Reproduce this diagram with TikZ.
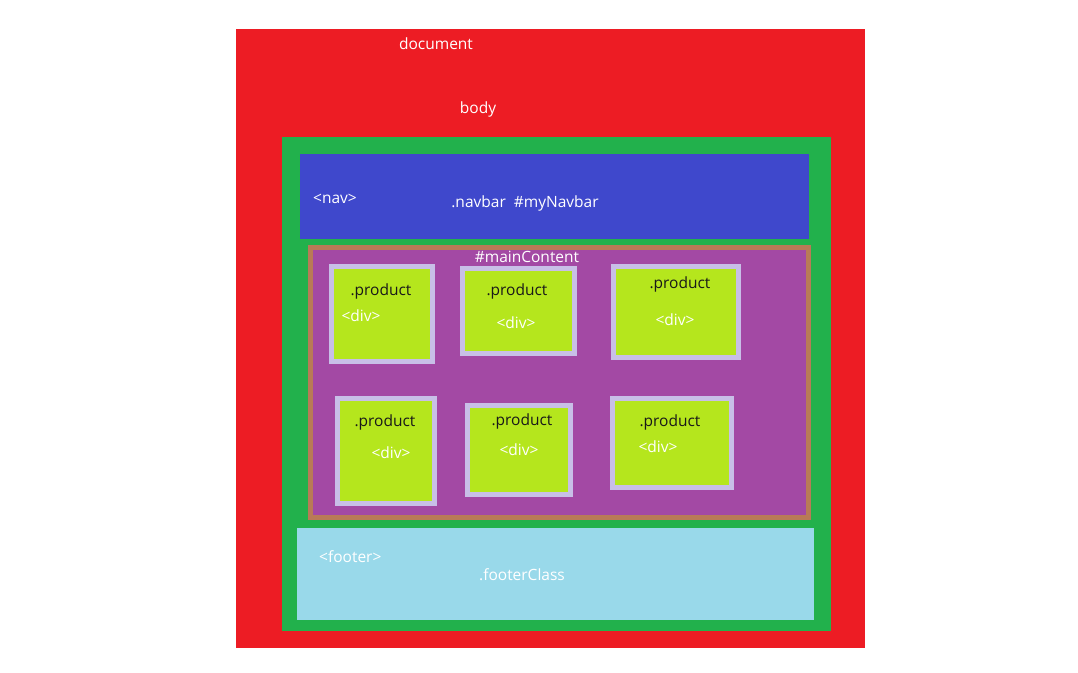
\documentclass[tikz,border=0pt]{standalone}
\usepackage{fontspec}
\setmainfont{Open Sans}
\usetikzlibrary{fit}
\definecolor{docred}{HTML}{ED1C24}
\definecolor{bodygreen}{HTML}{22B14C}
\definecolor{navblue}{HTML}{3F48CC}
\definecolor{mainpurple}{HTML}{A349A4}
\definecolor{mainbrown}{HTML}{B97A57}
\definecolor{prodlilac}{HTML}{C8BFE7}
\definecolor{prodlime}{HTML}{B5E61D}
\definecolor{footblue}{HTML}{99D9EA}

\begin{document}
\begin{tikzpicture}[
    x=1pt, y=-1pt,
    area/.style={inner sep=0pt, outer sep=0pt, draw=none},
    framed/.style={inner sep=-2.5pt, outer sep=0pt, line width=5pt},
    product/.style={framed, draw=prodlilac, fill=prodlime},
    tag/.style={inner sep=0pt, text=white, font=\fontsize{15.5}{18}\selectfont},
    cls/.style={tag, text=black!90}
]
    \useasboundingbox (0,0) rectangle (1078,672);
    \node[area, fill=docred, fit={(236,29) (865,648)}] (document) {};
    \node[area, fill=bodygreen, fit={(282,137) (831,631)}] (body) {};
    \node[area, fill=navblue, fit={(300,154) (809,239)}] (nav) {};
    \node[framed, draw=mainbrown, fill=mainpurple, fit={(308,245) (811,520)}] (main) {};
    \node[area, fill=footblue, fit={(297,528) (814,620)}] (footer) {};

    \node[product, fit={(329,264) (435,364)}] (prodA) {};
    \node[product, fit={(460,266) (577,356)}] (prodB) {};
    \node[product, fit={(611,264) (741,360)}] (prodC) {};
    \node[product, fit={(335,396) (437,506)}] (prodD) {};
    \node[product, fit={(465,403) (573,497)}] (prodE) {};
    \node[product, fit={(610,396) (734,490)}] (prodF) {};

    \node[tag] (docText) at (436,44) {document};
    \node[tag] (bodyText) at (478,109) {body};
    \node[tag, anchor=west] (navTag) at (313,199) {<nav>};
    \node[tag] (navClass) at (525,203) {.navbar\ \ \#myNavbar};
    \node[tag] (mainText) at (527,257) {\#mainContent};
    \node[tag, anchor=west] (footTag) at (319,557) {<footer>};
    \node[tag] (footClass) at (522,575) {.footerClass};

    \node[cls] (clsA) at (381,291) {.product};
    \node[tag] (divA) at (361,316) {<div>};
    \node[cls] (clsB) at (517,291) {.product};
    \node[tag] (divB) at (516,323) {<div>};
    \node[cls] (clsC) at (680,284) {.product};
    \node[tag] (divC) at (675,320) {<div>};
    \node[cls] (clsD) at (385,422) {.product};
    \node[tag] (divD) at (391,453) {<div>};
    \node[cls] (clsE) at (522,421) {.product};
    \node[tag] (divE) at (519,450) {<div>};
    \node[cls] (clsF) at (670,422) {.product};
    \node[tag] (divF) at (658,447) {<div>};
\end{tikzpicture}
\end{document}
